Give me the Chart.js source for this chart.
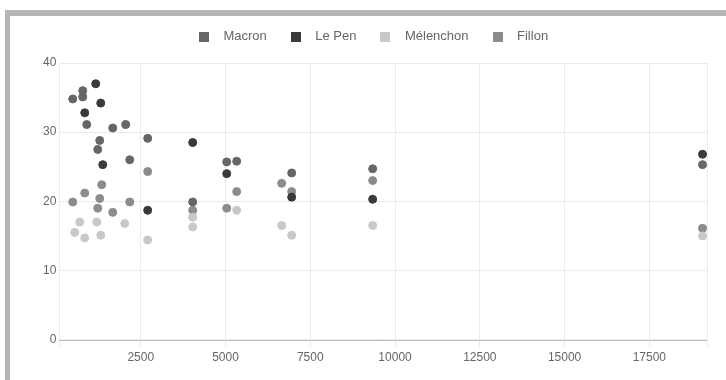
<!DOCTYPE html>
<html>
<head>
<meta charset="utf-8">
<script src="https://cdn.jsdelivr.net/npm/chart.js@4/dist/chart.umd.min.js"></script>
<style>
  html, body { margin: 0; padding: 0; width: 726px; height: 380px; overflow: hidden; background: #fff; }
  #frameTop { position: absolute; left: 5px; top: 10px; width: 721px; height: 6px; background: #b5b5b5; }
  #frameLeft { position: absolute; left: 5px; top: 10px; width: 5px; height: 370px; background: #b5b5b5; }
  #c { position: absolute; left: 0; top: 0; }
</style>
</head>
<body>
<div id="frameTop"></div>
<div id="frameLeft"></div>
<canvas id="c" width="726" height="380"></canvas>
<script>
// Series names
const seriesNames = ['Macron', 'Le Pen', 'Mélenchon', 'Fillon'];

// Macron
const macronX = [790, 790, 495, 908, 1674, 2058, 1291, 1232, 2176, 2706, 4033, 5036, 5330, 6952, 9340, 19068];
const macronY = [36.0, 35.1, 34.8, 31.1, 30.6, 31.1, 28.8, 27.5, 26.0, 29.1, 19.9, 25.7, 25.8, 24.1, 24.7, 25.3];

// Le Pen
const lepenX = [1173, 1380, 2706, 4033, 5036, 6952, 9340, 19068, 1321, 849];
const lepenY = [37.0, 25.3, 18.7, 28.5, 24.0, 20.6, 20.3, 26.8, 34.2, 32.8];

// Mélenchon
const melenchonX = [702, 1203, 2028, 554, 849, 1321, 2706, 4033, 4033, 5330, 6657, 6952, 9340, 19068];
const melenchonY = [17.0, 17.0, 16.8, 15.5, 14.7, 15.1, 14.4, 16.3, 17.7, 18.7, 16.5, 15.1, 16.5, 15.0];

// Fillon
const fillonX = [2706, 1350, 849, 495, 1291, 1232, 1674, 2176, 4033, 5330, 5036, 6657, 6952, 9340, 19068];
const fillonY = [24.3, 22.4, 21.2, 19.9, 20.4, 19.0, 18.4, 19.9, 18.7, 21.4, 19.0, 22.6, 21.4, 23.0, 16.1];

// Tick values
const xTicks = [2500, 5000, 7500, 10000, 12500, 15000, 17500];
const yTicks = [0, 10, 20, 30, 40];
const xMin = 100, xMax = 19200;

const colors = ['#666666', '#3a3a3a', '#c8c8c8', '#8c8c8c'];

function toPoints(xs, ys) { return xs.map((x, i) => ({ x: x, y: ys[i] })); }

const datasets = [
  toPoints(macronX, macronY),
  toPoints(lepenX, lepenY),
  toPoints(melenchonX, melenchonY),
  toPoints(fillonX, fillonY)
].map((pts, i) => ({
  label: seriesNames[i],
  data: pts,
  backgroundColor: colors[i],
  borderColor: colors[i],
  pointRadius: 4,
  pointBorderWidth: 1
}));

const FONT = 'Liberation Sans, Arial, sans-serif';

// small square markers for the legend
const legendMarks = colors.map(c => {
  const cv = document.createElement('canvas');
  cv.width = 10; cv.height = 10;
  const g = cv.getContext('2d');
  g.fillStyle = c;
  g.fillRect(0, 0, 10, 10);
  return cv;
});

const legendGap = {
  id: 'legendGap',
  beforeInit(chart) {
    const origFit = chart.legend.fit;
    chart.legend.fit = function () {
      origFit.call(this);
      this.height += 10;
    };
  },
  afterLayout(chart) {
    chart.legend.left -= 4;
    chart.legend.right -= 4;
  }
};

new Chart(document.getElementById('c'), {
  type: 'scatter',
  data: { datasets: datasets },
  plugins: [legendGap],
  options: {
    responsive: false,
    animation: false,
    layout: { padding: { left: 40, right: 19, top: 14, bottom: 12 } },
    plugins: {
      legend: {
        position: 'top',
        labels: {
          usePointStyle: true,
          pointStyleWidth: 26,
          boxHeight: 10,
          padding: 16,
          color: '#666',
          font: { family: FONT, size: 13 },
          generateLabels: (chart) => {
            const items = Chart.defaults.plugins.legend.labels.generateLabels(chart);
            items.forEach((it, i) => { it.pointStyle = legendMarks[i]; });
            return items;
          }
        }
      },
      tooltip: { enabled: false }
    },
    scales: {
      x: {
        type: 'linear',
        min: xMin,
        max: xMax,
        afterBuildTicks: (scale) => { scale.ticks = [xMin].concat(xTicks, [xMax]).map(v => ({ value: v })); },
        ticks: {
          color: '#666',
          autoSkip: false,
          maxRotation: 0,
          font: { family: FONT, size: 12 },
          callback: (v) => xTicks.indexOf(v) >= 0 ? String(v) : ''
        },
        grid: { color: '#ebebeb', tickLength: 8 },
        border: { color: '#ebebeb' }
      },
      y: {
        min: yTicks[0],
        max: yTicks[yTicks.length - 1],
        afterBuildTicks: (scale) => { scale.ticks = yTicks.map(v => ({ value: v })); },
        ticks: {
          color: '#666',
          padding: 3,
          font: { family: FONT, size: 12 }
        },
        grid: {
          drawTicks: false,
          color: (ctx) => ctx.tick && ctx.tick.value === 0 ? '#bdbdbd' : '#ebebeb',
          lineWidth: (ctx) => ctx.tick && ctx.tick.value === 0 ? 2 : 1
        },
        border: { display: false }
      }
    }
  }
});
</script>
</body>
</html>
